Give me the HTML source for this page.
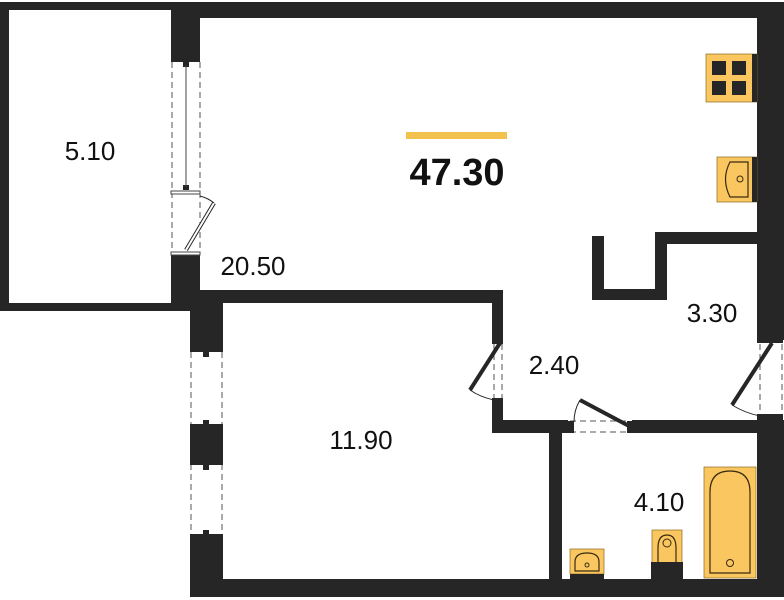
<!DOCTYPE html>
<html><head><meta charset="utf-8"><style>
html,body{margin:0;padding:0;background:#fff;width:784px;height:600px;overflow:hidden}
text{font-family:"Liberation Sans",sans-serif;fill:#111}
</style></head><body>
<svg width="784" height="600" viewBox="0 0 784 600" xmlns="http://www.w3.org/2000/svg">
<g fill="#262626">
<rect x="0" y="2" width="9" height="309"/>
<rect x="0" y="2" width="200" height="8"/>
<rect x="0" y="303" width="200" height="8"/>
<rect x="171" y="2" width="29" height="58"/>
<rect x="171" y="255" width="29" height="56"/>
<rect x="171" y="2" width="613" height="16"/>
<rect x="757" y="2" width="27" height="338"/>
<rect x="757" y="420" width="27" height="177"/>
<rect x="190" y="290" width="313" height="13"/>
<rect x="190" y="303" width="33" height="46"/>
<rect x="190" y="427" width="33" height="35"/>
<rect x="190" y="538" width="33" height="59"/>
<rect x="190" y="579" width="594" height="18"/>
<rect x="492" y="290" width="11" height="50"/>
<rect x="492" y="402" width="11" height="31"/>
<rect x="492" y="420" width="76" height="13"/>
<rect x="632" y="420" width="125" height="13"/>
<rect x="549" y="420" width="13" height="177"/>
<rect x="655" y="232" width="102" height="12"/>
<rect x="655" y="232" width="12" height="68"/>
<rect x="592" y="236" width="12" height="64"/>
<rect x="592" y="289" width="75" height="11"/>
</g>
<g stroke="#555" stroke-width="1" fill="none" stroke-dasharray="6,4">
<line x1="172" y1="62" x2="172" y2="254"/><line x1="200" y1="62" x2="200" y2="254"/>
<line x1="191" y1="352" x2="191" y2="425"/><line x1="222" y1="352" x2="222" y2="425"/>
<line x1="191" y1="464" x2="191" y2="536"/><line x1="222" y1="464" x2="222" y2="536"/>
<line x1="494" y1="344" x2="494" y2="400"/><line x1="502" y1="344" x2="502" y2="400"/>
<line x1="760" y1="344" x2="760" y2="418"/><line x1="782" y1="344" x2="782" y2="418"/>
<line x1="570" y1="421" x2="630" y2="421"/><line x1="570" y1="432" x2="630" y2="432"/>
</g>
<g fill="#262626">
<rect x="171" y="58" width="29" height="4"/><rect x="183" y="62" width="6" height="5"/>
<rect x="183" y="185" width="6" height="5"/>
<rect x="190" y="348" width="33" height="4"/><rect x="203" y="352" width="6" height="5"/>
<rect x="190" y="424" width="33" height="4"/><rect x="203" y="420" width="6" height="5"/>
<rect x="190" y="461" width="33" height="4"/><rect x="203" y="465" width="6" height="5"/>
<rect x="190" y="534" width="33" height="4"/><rect x="203" y="530" width="6" height="5"/>
<rect x="492" y="338" width="11" height="6"/><rect x="492" y="398" width="11" height="6"/>
<rect x="757" y="338" width="26" height="5"/><rect x="757" y="414" width="26" height="6"/>
<rect x="568" y="421" width="6" height="12"/><rect x="627" y="421" width="6" height="12"/>
</g>
<g stroke="#444" stroke-width="1">
<line x1="186" y1="65" x2="186" y2="187"/>
<rect x="171" y="191" width="29" height="3" fill="#fff"/>
<rect x="171" y="252" width="29" height="3" fill="#fff"/>
</g>
<g stroke="#262626" fill="none">
<path d="M186 250 L214 203" stroke-width="4"/><path d="M186 250 L214 203" stroke="#fff" stroke-width="2"/>
<path d="M200 196 Q208 198 214 203" stroke-width="1"/>
<line x1="500" y1="343" x2="470" y2="390" stroke-width="4"/>
<path d="M470 390 Q480 397 494 400" stroke-width="1"/>
<line x1="772" y1="343" x2="732" y2="405" stroke-width="4"/>
<path d="M732 405 Q745 413 760 416" stroke-width="1"/>
<line x1="629" y1="426" x2="580" y2="400" stroke-width="4"/>
<path d="M580 400 Q574 410 574 422" stroke-width="1"/>
</g>
<rect x="706" y="54" width="51" height="48" fill="#f9c660" stroke="#8a6a20" stroke-width="0.7"/>
<rect x="752" y="54" width="5" height="48" fill="#262626"/>
<g fill="#262626"><rect x="712" y="61" width="14" height="14"/><rect x="732" y="61" width="14" height="14"/><rect x="712" y="81" width="14" height="14"/><rect x="732" y="81" width="14" height="14"/></g>
<rect x="717" y="157" width="40" height="45" fill="#f9c660" stroke="#8a6a20" stroke-width="0.7"/>
<rect x="752" y="157" width="5" height="45" fill="#262626"/>
<path d="M748 162 L730 162 Q721 179 730 197 L748 197 Z" fill="none" stroke="#3a2a10" stroke-width="1.2"/>
<circle cx="740" cy="179" r="3" fill="none" stroke="#3a2a10"/>
<rect x="704" y="467" width="52" height="111" fill="#f9c660" stroke="#8a6a20" stroke-width="0.7"/>
<path d="M710 573 L710 492 Q710 471 730 471 Q750 471 750 492 L750 573 Z" fill="none" stroke="#3a2a10" stroke-width="1.2"/>
<circle cx="730" cy="563" r="3.5" fill="none" stroke="#3a2a10"/>
<rect x="652" y="530" width="30" height="33" fill="#f9c660" stroke="#8a6a20" stroke-width="0.7"/>
<path d="M658 562 L658 548 Q658 535 667 535 Q676 535 676 548 L676 562" fill="none" stroke="#3a2a10" stroke-width="1.2"/>
<circle cx="667" cy="543" r="4" fill="none" stroke="#3a2a10"/>
<rect x="651" y="562" width="32" height="17" fill="#262626"/>
<rect x="570" y="549" width="34" height="25" fill="#f9c660" stroke="#8a6a20" stroke-width="0.7"/>
<path d="M575 571 L575 562 Q575 553 587 553 Q599 553 599 562 L599 571 Z" fill="none" stroke="#3a2a10" stroke-width="1.2"/>
<circle cx="587" cy="565" r="2" fill="none" stroke="#3a2a10"/>
<rect x="570" y="574" width="34" height="5" fill="#262626"/>
<rect x="406" y="132" width="101" height="7" fill="#f2c14e"/>
<text x="457" y="185" font-size="38" font-weight="bold" text-anchor="middle">47.30</text>
<text x="90" y="160" font-size="26" text-anchor="middle">5.10</text>
<text x="253" y="275" font-size="26" text-anchor="middle">20.50</text>
<text x="361" y="449" font-size="26" text-anchor="middle">11.90</text>
<text x="554" y="374" font-size="26" text-anchor="middle">2.40</text>
<text x="712" y="322" font-size="26" text-anchor="middle">3.30</text>
<text x="659" y="511" font-size="26" text-anchor="middle">4.10</text>
</svg>
</body></html>
